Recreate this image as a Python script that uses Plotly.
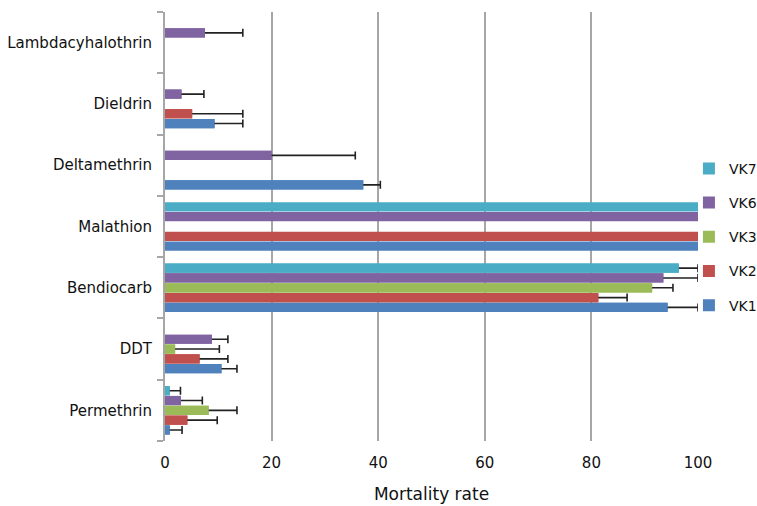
import plotly.graph_objects as go

categories = ["Permethrin", "DDT", "Bendiocarb", "Malathion",
              "Deltamethrin", "Dieldrin", "Lambdacyhalothrin"]

series = ["VK1", "VK2", "VK3", "VK6", "VK7"]

vk1 = [0.9, 10.6, 94.3, 100, 37.2, 9.3, None]
vk1_err = [2.3, 2.9, 5.7, None, 3.2, 5.3, None]
vk2 = [4.2, 6.5, 81.3, 100, None, 5.1, None]
vk2_err = [5.6, 5.3, 5.4, None, None, 9.5, None]
vk3 = [8.2, 1.9, 91.4, None, None, None, None]
vk3_err = [5.3, 8.3, 3.9, None, None, None, None]
vk6 = [3.0, 8.8, 93.5, 100, 20.0, 3.1, 7.5]
vk6_err = [4.0, 3.0, 6.5, None, 15.7, 4.2, 7.1]
vk7 = [0.9, None, 96.4, 100, None, None, None]
vk7_err = [2.0, None, 3.6, None, None, None, None]

values = [vk1, vk2, vk3, vk6, vk7]
errors = [vk1_err, vk2_err, vk3_err, vk6_err, vk7_err]
colors = ["#4F81BD", "#C0504D", "#9BBB59", "#8064A2", "#4BACC6"]

FONT = "DejaVu Sans"
TEXT = "#111111"
GRID = "#a6a6a6"

fig = go.Figure()

for i, (name, vals, errs, color) in enumerate(zip(series, values, errors, colors)):
    # error bars sit on a hidden copy drawn first, so the real bar covers
    # the minus side and only the plus whisker shows (Excel style)
    pts = [(c, v, e) for c, v, e in zip(categories, vals, errs)
           if v is not None and e is not None]
    if pts:
        fig.add_trace(go.Bar(
            y=[p[0] for p in pts],
            x=[p[1] for p in pts],
            orientation="h",
            marker=dict(color=color, line=dict(width=0)),
            error_x=dict(type="data", symmetric=False,
                         array=[p[2] for p in pts],
                         arrayminus=[p[1] for p in pts],
                         color="#222222", thickness=1.6, width=4),
            offsetgroup=name, alignmentgroup="a", legendgroup=name,
            showlegend=False, hoverinfo="skip",
        ))
    fig.add_trace(go.Bar(
        y=categories,
        x=vals,
        name=name,
        orientation="h",
        marker=dict(color=color, line=dict(width=0)),
        offsetgroup=name, alignmentgroup="a", legendgroup=name,
        legendrank=len(series) - i,
    ))

fig.update_layout(
    width=757,
    height=506,
    barmode="group",
    bargap=0.2,
    bargroupgap=0.06,
    plot_bgcolor="white",
    paper_bgcolor="white",
    margin=dict(l=165, r=59, t=12, b=65, autoexpand=False),
    font=dict(family=FONT, color=TEXT, size=15),
    legend=dict(
        x=0.983, xanchor="left", y=0.476, yanchor="middle",
        traceorder="grouped", tracegroupgap=13,
        font=dict(size=14, family=FONT, color=TEXT),
        bgcolor="rgba(0,0,0,0)",
    ),
    xaxis=dict(
        range=[0, 100],
        dtick=20,
        showgrid=True, gridcolor=GRID, gridwidth=2,
        zeroline=False, showline=False, ticks="",
        ticklabelstandoff=11,
        tickfont=dict(size=15, family=FONT, color=TEXT),
        title=dict(text="Mortality rate", font=dict(size=17, family=FONT, color=TEXT),
                   standoff=17),
    ),
    yaxis=dict(
        categoryorder="array", categoryarray=categories,
        showgrid=False, zeroline=False,
        showline=True, linecolor=GRID, linewidth=2,
        ticks="outside", tickson="boundaries", ticklen=6, tickcolor=GRID, tickwidth=1.5,
        ticklabelstandoff=8,
        tickfont=dict(size=15, family=FONT, color=TEXT),
    ),
)

# drop the browser's default body margin so the figure fills the window
fig.write_html(
    "out.html",
    config={"displayModeBar": False},
    post_script="document.body.style.margin='0';"
                "document.documentElement.style.overflow='hidden';",
)
